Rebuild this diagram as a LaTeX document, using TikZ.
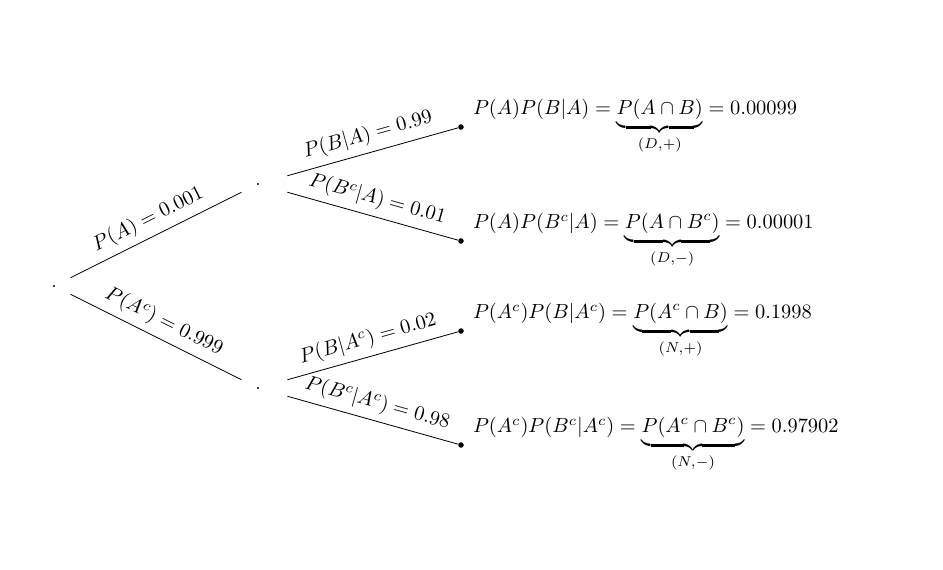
\documentclass[tikz,border=0pt]{standalone}
\usepackage{amsmath}
\begin{document}
\begin{tikzpicture}[x=0.49pt,y=-0.49pt,
  smalldot/.style={circle,fill,inner sep=0pt,minimum size=1.1pt},
  leafdot/.style={circle,fill,inner sep=0pt,minimum size=2.7pt},
  lab/.style={sloped,above},
  leaftext/.style={anchor=west,xshift=0.8pt}]
\useasboundingbox (0,0) rectangle (943,570);
% nodes
\node[smalldot] (r)  at (54,286) {};
\node[smalldot] (a)  at (258,184) {};
\node[smalldot] (ac) at (258,388) {};
\node[leafdot] (l1) at (461,127) {};
\node[leafdot] (l2) at (461,241) {};
\node[leafdot] (l3) at (461,331) {};
\node[leafdot] (l4) at (461,445) {};
% first level edges
\draw[shorten <=8.3pt,shorten >=8.3pt] (r) -- node[lab] {$P(A)=0.001$} (a);
\draw[shorten <=8.3pt,shorten >=8.3pt] (r) -- node[lab] {$P(A^c)=0.999$} (ac);
% second level edges
\draw[shorten <=14.2pt] (a) -- node[lab,pos=0.57] {$P(B|A)=0.99$} (l1);
\draw[shorten <=14.2pt] (a) -- node[lab,pos=0.57] {$P(B^c|A)=0.01$} (l2);
\draw[shorten <=14.2pt] (ac) -- node[lab,pos=0.57] {$P(B|A^c)=0.02$} (l3);
\draw[shorten <=14.2pt] (ac) -- node[lab,pos=0.57] {$P(B^c|A^c)=0.98$} (l4);
% leaf texts
\node[leaftext] (t1) at (l1.east) {$P(A)P(B|A)=\underbrace{P(A\cap B)}_{(D,+)}=0.00099$};
\node[leaftext] (t2) at (l2.east) {$P(A)P(B^c|A)=\underbrace{P(A\cap B^c)}_{(D,-)}=0.00001$};
\node[leaftext] (t3) at (l3.east) {$P(A^c)P(B|A^c)=\underbrace{P(A^c\cap B)}_{(N,+)}=0.1998$};
\node[leaftext] (t4) at (l4.east) {$P(A^c)P(B^c|A^c)=\underbrace{P(A^c\cap B^c)}_{(N,-)}=0.97902$};
\end{tikzpicture}
\end{document}
